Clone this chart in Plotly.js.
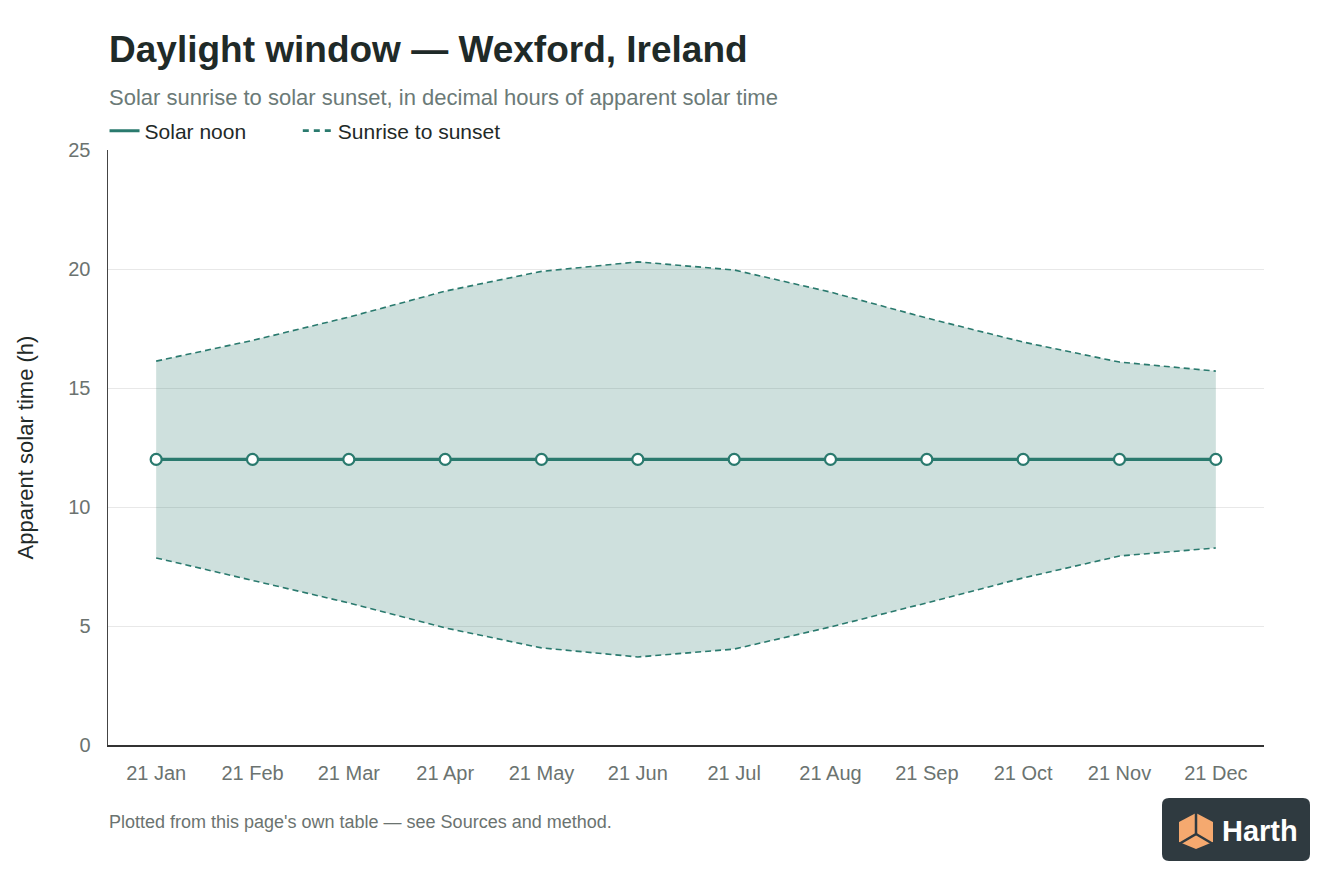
<!DOCTYPE html>
<html>
<head>
<meta charset="utf-8">
<script src="https://cdn.plot.ly/plotly-3.0.1.min.js"></script>
<style>
  html, body { margin: 0; padding: 0; background: #fff; }
  #chart { width: 1344px; height: 896px; }
</style>
</head>
<body>
<div id="chart"></div>
<script>
"use strict";

const months = ['21 Jan', '21 Feb', '21 Mar', '21 Apr', '21 May', '21 Jun',
                '21 Jul', '21 Aug', '21 Sep', '21 Oct', '21 Nov', '21 Dec'];
const sunrise = [7.86, 6.93, 5.97, 4.92, 4.08, 3.70, 4.03, 4.96, 5.97, 7.02, 7.94, 8.28];
const sunset = [16.13, 17.00, 17.98, 19.07, 19.90, 20.30, 19.96, 19.03, 17.94, 16.93, 16.09, 15.71];
const solarNoon = [12, 12, 12, 12, 12, 12, 12, 12, 12, 12, 12, 12];
const yTicks = [0, 5, 10, 15, 20, 25];

const teal = '#2a7a6e';
const font = 'Liberation Sans, Arial, Helvetica, sans-serif';

// plot box in pixels, used to place the extra bits in paper coords
const box = {l: 108, r: 1264, t: 150, b: 745};
const px = x => (x - box.l) / (box.r - box.l);
const py = y => (box.b - y) / (box.b - box.t);

function roundRect(x0, y0, x1, y1, r) {
  let rx = r / (box.r - box.l), ry = r / (box.b - box.t);
  let a = px(x0), b = px(x1), top = py(y0), bot = py(y1);
  return 'M' + (a + rx) + ',' + top +
    ' L' + (b - rx) + ',' + top + ' Q' + b + ',' + top + ' ' + b + ',' + (top - ry) +
    ' L' + b + ',' + (bot + ry) + ' Q' + b + ',' + bot + ' ' + (b - rx) + ',' + bot +
    ' L' + (a + rx) + ',' + bot + ' Q' + a + ',' + bot + ' ' + a + ',' + (bot + ry) +
    ' L' + a + ',' + (top - ry) + ' Q' + a + ',' + top + ' ' + (a + rx) + ',' + top + ' Z';
}

let traces = [
  {
    x: months, y: sunrise,
    name: 'Sunrise to sunset',
    type: 'scatter', mode: 'lines',
    line: {color: teal, width: 1.6, dash: '6px,4px'},
    showlegend: false,
    hoverinfo: 'skip'
  },
  {
    x: months, y: sunset,
    name: 'Sunset',
    type: 'scatter', mode: 'lines',
    fill: 'tonexty',
    fillcolor: 'rgba(42,122,110,0.23)',
    line: {color: teal, width: 1.6, dash: '6px,4px'},
    showlegend: false,
    hoverinfo: 'skip'
  },
  {
    x: months, y: solarNoon,
    name: 'Solar noon',
    type: 'scatter', mode: 'lines+markers',
    line: {color: teal, width: 3.4},
    marker: {size: 11, color: '#ffffff', line: {color: teal, width: 2.2}},
    showlegend: false,
    hoverinfo: 'skip'
  },
  // legend-only entries (no marker, no fill); nbsp pad to space the items
  {
    x: [null], y: [null],
    name: 'Solar noon' + '\u00a0'.repeat(8),
    type: 'scatter', mode: 'lines',
    line: {color: teal, width: 3}
  },
  {
    x: [null], y: [null],
    name: 'Sunrise to sunset',
    type: 'scatter', mode: 'lines',
    line: {color: teal, width: 2.6, dash: '6px,5px'}
  }
];

const cubeSvg =
  '<svg xmlns="http://www.w3.org/2000/svg" width="40" height="40" viewBox="0 0 40 40">' +
  '<polygon points="20,2 37,11 37,31 20,38 3,31 3,11" fill="#f5a96f"/>' +
  '<polyline points="20,2 20,23 3,33" fill="none" stroke="#2f3a40" stroke-width="2.5"/>' +
  '<line x1="20" y1="23" x2="37" y2="33" stroke="#2f3a40" stroke-width="2.5"/>' +
  '</svg>';

let layout = {
  width: 1344,
  height: 896,
  paper_bgcolor: '#ffffff',
  plot_bgcolor: '#ffffff',
  margin: {l: 108, r: 80, t: 150, b: 151},
  font: {family: font, color: '#6b7370', size: 20},
  showlegend: true,
  legend: {
    orientation: 'h',
    traceorder: 'normal',
    x: -0.003, xanchor: 'left',
    y: py(131), yanchor: 'middle',
    font: {family: font, size: 21, color: '#1f2a28'},
    itemwidth: 30,
    bgcolor: 'rgba(0,0,0,0)'
  },
  xaxis: {
    type: 'category',
    range: [-0.5, 11.5],
    showgrid: false,
    zeroline: false,
    showline: true,
    linecolor: '#333333',
    linewidth: 1.5,
    ticks: '',
    tickfont: {family: font, size: 20, color: '#6b7370'},
    ticklabelstandoff: 9,
    fixedrange: true
  },
  yaxis: {
    range: [0, 25],
    tickvals: yTicks,
    showgrid: true,
    gridcolor: '#e8e8e8',
    gridwidth: 1,
    zeroline: false,
    showline: true,
    linecolor: '#444444',
    linewidth: 1.5,
    ticks: '',
    tickfont: {family: font, size: 20, color: '#6b7370'},
    ticklabelstandoff: 12,
    title: {text: 'Apparent solar time (h)', font: {family: font, size: 22, color: '#1f2a28'}, standoff: 28},
    fixedrange: true
  },
  annotations: [
    {
      text: 'Daylight window — Wexford, Ireland',
      xref: 'paper', yref: 'paper', x: px(107), y: py(50),
      xanchor: 'left', yanchor: 'middle', showarrow: false,
      font: {family: font, size: 37, color: '#1f2a28', weight: 'bold'}
    },
    {
      text: 'Solar sunrise to solar sunset, in decimal hours of apparent solar time',
      xref: 'paper', yref: 'paper', x: px(107), y: py(97),
      xanchor: 'left', yanchor: 'middle', showarrow: false,
      font: {family: font, size: 22, color: '#6b7a77'}
    },
    {
      text: "Plotted from this page's own table — see Sources and method.",
      xref: 'paper', yref: 'paper', x: px(107), y: py(822),
      xanchor: 'left', yanchor: 'middle', showarrow: false,
      font: {family: font, size: 18, color: '#6b7370'}
    },
    {
      text: '<b>Harth</b>',
      xref: 'paper', yref: 'paper', x: px(1220), y: py(831),
      xanchor: 'left', yanchor: 'middle', showarrow: false,
      font: {family: font, size: 29, color: '#ffffff'}
    }
  ],
  shapes: [
    {
      type: 'path', xref: 'paper', yref: 'paper', layer: 'below',
      path: roundRect(1162, 798, 1310, 861, 7),
      fillcolor: '#2f3a40', line: {width: 0}
    }
  ],
  images: [
    {
      source: 'data:image/svg+xml;utf8,' + encodeURIComponent(cubeSvg),
      xref: 'paper', yref: 'paper',
      x: px(1176), y: py(811),
      sizex: 40 / (box.r - box.l), sizey: 40 / (box.b - box.t),
      xanchor: 'left', yanchor: 'top', layer: 'above'
    }
  ]
};

Plotly.newPlot('chart', traces, layout, {displayModeBar: false, staticPlot: true});
</script>
</body>
</html>
